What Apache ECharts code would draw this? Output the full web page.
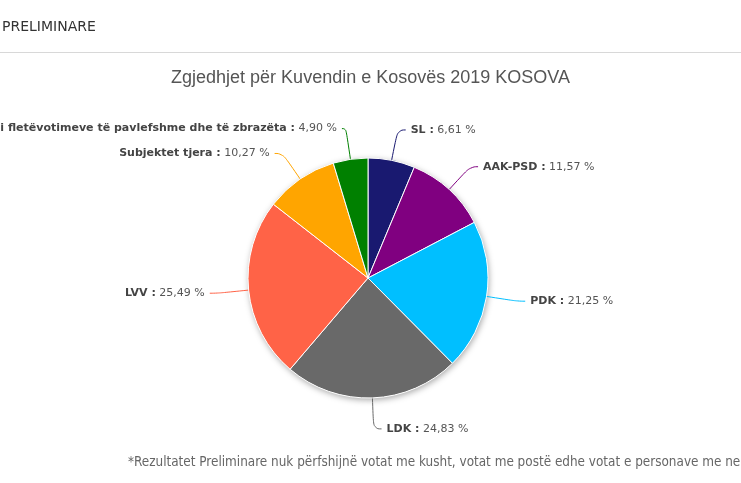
<!DOCTYPE html>
<html>
<head>
<meta charset="utf-8">
<script src="https://cdn.jsdelivr.net/npm/echarts@6/dist/echarts.min.js"></script>
<style>
  html, body { margin: 0; padding: 0; background: #fff; }
  #chart { width: 741px; height: 483px; }
</style>
</head>
<body>
<div id="chart"></div>
<script>
// të dhënat
const parties = ['SL', 'AAK-PSD', 'PDK', 'LDK', 'LVV', 'Subjektet tjera', 'i fletëvotimeve të pavlefshme dhe të zbrazëta'];
const shares = [6.61, 11.57, 21.25, 24.83, 25.49, 10.27, 4.90];
const colors = ['#191970', '#800080', '#00BFFF', '#696969', '#FF6347', '#FFA500', '#008000'];

const headerText = 'PRELIMINARE';
const titleText = 'Zgjedhjet për Kuvendin e Kosovës 2019 KOSOVA';
const noteText = '*Rezultatet Preliminare nuk përfshijnë votat me kusht, votat me postë edhe votat e personave me ne';

const chart = echarts.init(document.getElementById('chart'));

const fmt = v => v.toFixed(2).replace('.', ',') + ' %';

const option = {
    backgroundColor: '#fff',
    animation: false,
    title: {
        text: titleText,
        left: 'center',
        top: 64,
        textStyle: { fontFamily: 'Liberation Sans', fontSize: 18, fontWeight: 'normal', color: '#555' }
    },
    graphic: [
        { type: 'text', left: 2, top: 20, style: { text: headerText, font: '14px "DejaVu Sans"', fill: '#333' } },
        { type: 'rect', shape: { x: 0, y: 52, width: 741, height: 1 }, style: { fill: '#d8d8d8' } },
        { type: 'text', left: 128, top: 456, style: { text: noteText, font: '13.4px "DejaVu Sans Condensed"', fill: '#666' } }
    ],
    series: [
        {
            // hije poshtë pites
            type: 'pie',
            silent: true,
            center: [368, 278],
            radius: 120,
            label: { show: false },
            labelLine: { show: false },
            itemStyle: { color: '#fff', shadowBlur: 6, shadowOffsetX: 1, shadowOffsetY: 2, shadowColor: 'rgba(0,0,0,0.35)' },
            data: [{ value: 1, name: '' }],
            z: 1
        },
        {
            type: 'pie',
            center: [368, 278],
            radius: 120,
            startAngle: 90,
            clockwise: true,
            z: 2,
            itemStyle: { borderColor: '#fff', borderWidth: 1 },
            label: {
                overflow: 'none',
                fontFamily: 'DejaVu Sans',
                fontSize: 11,
                formatter: p => '{n|' + p.name + ' :} {v|' + fmt(p.value) + '}',
                rich: {
                    n: { fontFamily: 'DejaVu Sans', fontSize: 11, fontWeight: 'bold', color: '#444' },
                    v: { fontFamily: 'DejaVu Sans', fontSize: 11, color: '#555' }
                }
            },
            labelLine: { length: 31, length2: 8, smooth: 0.5, lineStyle: { width: 1 } },
            data: parties.map((n, i) => ({
                name: n,
                value: shares[i],
                itemStyle: { color: colors[i] },
                labelLine: i === parties.length - 1 ? { length2: 4 } : undefined
            }))
        }
    ]
};

chart.setOption(option);
</script>
</body>
</html>
